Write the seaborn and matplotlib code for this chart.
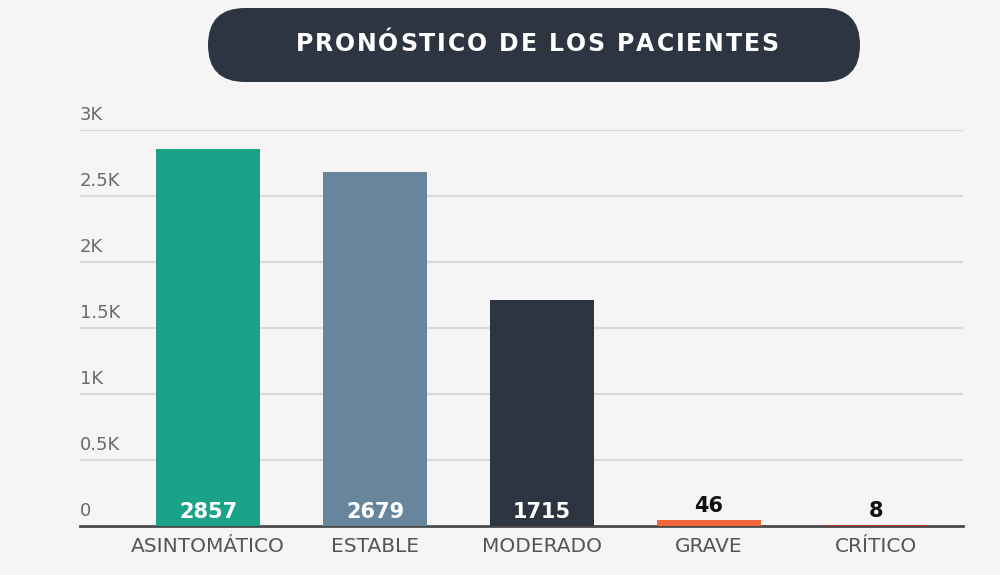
import matplotlib
matplotlib.use("Agg")
import matplotlib.pyplot as plt
import seaborn as sns
import pandas as pd
from matplotlib.patches import FancyBboxPatch
from matplotlib.transforms import IdentityTransform, blended_transform_factory

# Data
categories = ["ASINTOMÁTICO", "ESTABLE", "MODERADO", "GRAVE", "CRÍTICO"]
patients = [2857, 2679, 1715, 46, 8]
bar_colors = ["#1ba389", "#68869b", "#2e3542", "#f2663a", "#b5392b"]
y_ticks = [0, 500, 1000, 1500, 2000, 2500, 3000]
y_tick_labels = ["0", "0.5K", "1K", "1.5K", "2K", "2.5K", "3K"]
title = "PRONÓSTICO DE LOS PACIENTES"

df = pd.DataFrame({"categoria": categories, "pacientes": patients})

sns.set_theme(style="white")
plt.rcParams["font.family"] = ["DejaVu Sans"]

bg = "#f5f5f5"
fig = plt.figure(figsize=(10, 5.75), dpi=100, facecolor=bg)
ax = fig.add_axes([0.08, 0.0852, 0.883, 0.6887])
ax.set_facecolor(bg)

sns.barplot(data=df, x="categoria", y="pacientes", hue="categoria",
            palette=bar_colors, width=0.62, legend=False, saturation=1,
            linewidth=0, edgecolor="none", ax=ax)
for p in ax.patches:
    p.set_zorder(3)

ax.set_ylim(0, 3000)
ax.set_xlim(-0.766, 4.52)

# gridlines and y labels sitting above them
for t in y_ticks[1:]:
    ax.axhline(t, color="#d9d9d9", lw=1.6, zorder=0)
ylab_tr = blended_transform_factory(ax.transAxes, ax.transData)
for t, lab in zip(y_ticks, y_tick_labels):
    ax.annotate(lab, xy=(0, t), xycoords=ylab_tr, xytext=(0, 4),
                textcoords="offset points", ha="left", va="bottom",
                fontsize=13, color="#6a6a6a")
ax.set_yticks([])
ax.set_xlabel("")
ax.set_ylabel("")

for s in ["top", "right", "left"]:
    ax.spines[s].set_visible(False)
ax.spines["bottom"].set_color("#4a4a4a")
ax.spines["bottom"].set_linewidth(2)
ax.spines["bottom"].set_zorder(2)
ax.tick_params(axis="x", length=0, pad=8, labelsize=14.5, labelcolor="#555555")

# value labels: inside the base for big bars, above for small ones
for i, v in enumerate(patients):
    if v > 500:
        ax.annotate(str(v), xy=(i, 0), xytext=(0, 3), textcoords="offset points",
                    ha="center", va="bottom", fontsize=15, fontweight="bold",
                    color="white", zorder=4)
    else:
        ax.annotate(str(v), xy=(i, v), xytext=(0, 3), textcoords="offset points",
                    ha="center", va="bottom", fontsize=15, fontweight="bold",
                    color="#111111", zorder=4)

# pill shaped title box
pill = FancyBboxPatch((208, 575 - 82), 652, 74,
                      boxstyle="round,pad=0,rounding_size=37",
                      transform=IdentityTransform(), facecolor="#2e3542",
                      edgecolor="none")
fig.patches.append(pill)

# title with wide letter spacing, drawn one character at a time
renderer = fig.canvas.get_renderer()
title_kw = dict(fontsize=17, fontweight="bold", color="white", va="center",
                ha="left")
widths = []
for ch in title:
    t = fig.text(0, 0, ch if ch != " " else "-", **title_kw)
    w = t.get_window_extent(renderer).width
    if ch == " ":
        w *= 0.9
    widths.append(w)
    t.remove()
target_w = 483
tracking = (target_w - sum(widths)) / (len(title) - 1)
x = 537 - target_w / 2
ty = 1 - 44 / 575
for ch, w in zip(title, widths):
    if ch != " ":
        fig.text(x / 1000, ty, ch, **title_kw)
    x += w + tracking

fig.savefig("out.png", dpi=100, facecolor=bg)
